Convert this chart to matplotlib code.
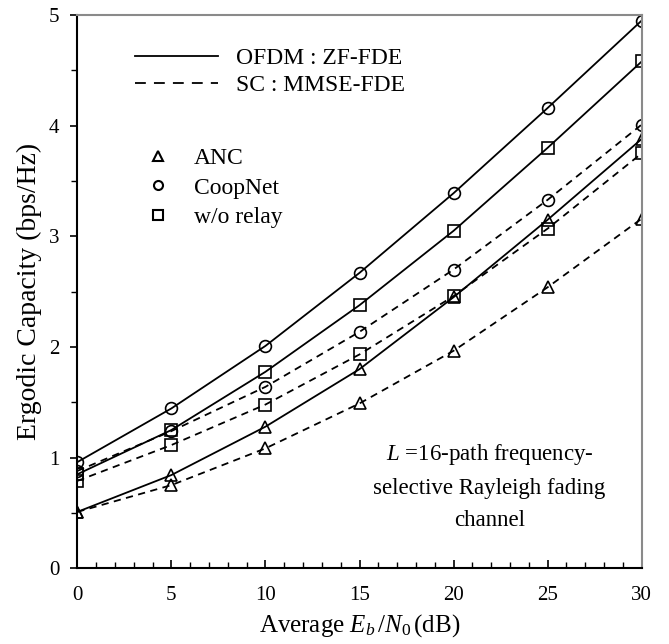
import matplotlib
matplotlib.use("Agg")
import matplotlib.pyplot as plt
from matplotlib.lines import Line2D
from matplotlib.ticker import MultipleLocator

plt.rcParams['font.family'] = ['Liberation Serif', 'DejaVu Serif']
plt.rcParams['mathtext.fontset'] = 'custom'
plt.rcParams['mathtext.rm'] = 'Liberation Serif'
plt.rcParams['mathtext.it'] = 'Liberation Serif:italic'

snr = [0, 5, 10, 15, 20, 25, 30]

ofdm_coopnet = [0.96, 1.445, 2.01, 2.67, 3.39, 4.16, 4.95]
ofdm_worelay = [0.85, 1.25, 1.776, 2.378, 3.05, 3.80, 4.58]
ofdm_anc = [0.51, 0.843, 1.28, 1.80, 2.45, 3.15, 3.88]

sc_coopnet = [0.88, 1.24, 1.64, 2.137, 2.70, 3.33, 4.01]
sc_worelay = [0.79, 1.114, 1.48, 1.933, 2.46, 3.07, 3.75]
sc_anc = [0.51, 0.752, 1.084, 1.49, 1.966, 2.54, 3.16]

fig = plt.figure(figsize=(6.69, 6.44), dpi=100)
ax = fig.add_axes([0.1156, 0.1175, 0.8436, 0.8592])

dash = (0, (4, 3))
mk = dict(markersize=8.5, markerfacecolor='none', markeredgecolor='black', markeredgewidth=1.2)

ax.plot(snr, ofdm_coopnet, color='black', lw=1.3, ls='-', marker='o', **mk)
ax.plot(snr, ofdm_worelay, color='black', lw=1.3, ls='-', marker='s', **mk)
ax.plot(snr, ofdm_anc, color='black', lw=1.3, ls='-', marker='^', **mk)
ax.plot(snr, sc_coopnet, color='black', lw=1.3, ls=dash, marker='o', **mk)
ax.plot(snr, sc_worelay, color='black', lw=1.3, ls=dash, marker='s', **mk)
ax.plot(snr, sc_anc, color='black', lw=1.3, ls=dash, marker='^', **mk)

ax.set_xlim(0, 30)
ax.set_ylim(0, 5)
ax.xaxis.set_major_locator(MultipleLocator(5))
ax.xaxis.set_minor_locator(MultipleLocator(1))
ax.yaxis.set_major_locator(MultipleLocator(1))
ax.yaxis.set_minor_locator(MultipleLocator(0.5))
ax.tick_params(axis='x', which='major', direction='in', length=6, width=1.2, labelsize=15, pad=13)
ax.tick_params(axis='x', which='minor', direction='in', length=4, width=1.0)
ax.tick_params(axis='y', which='major', direction='out', length=5, width=1.2, labelsize=15, pad=8)
ax.tick_params(axis='y', which='minor', direction='out', length=4, width=1.0)

for s in ['left', 'bottom']:
    ax.spines[s].set_color('black')
    ax.spines[s].set_linewidth(1.5)
for s in ['top', 'right']:
    ax.spines[s].set_color('#8a8a8a')
    ax.spines[s].set_linewidth(1.5)

ax.set_xlabel(r'Average $E_b\,/N_{\mathrm{0}}\,$(dB)', fontsize=18, labelpad=5)
ax.set_ylabel('Ergodic Capacity (bps/Hz)', fontsize=20, labelpad=5)

ax.text(21.9, 0.74, "$L$ =16-path frequency-\nselective Rayleigh fading\nchannel",
        ha='center', va='center', fontsize=16.5, linespacing=1.7)

h1 = [Line2D([], [], color='black', lw=1.3, ls='-'),
      Line2D([], [], color='black', lw=1.3, ls=(0, (6, 4.5)))]
leg1 = ax.legend(h1, ['OFDM : ZF-FDE', 'SC : MMSE-FDE'], loc='upper left',
                 bbox_to_anchor=(0.086, 0.958), frameon=False, fontsize=17,
                 handlelength=3.5, handletextpad=0.75, labelspacing=0.22, borderaxespad=0)
ax.add_artist(leg1)

mk2 = dict(ls='none', markersize=6.5, markerfacecolor='none', markeredgecolor='black', markeredgewidth=1.5)
h2 = [Line2D([], [], marker='^', **mk2),
      Line2D([], [], marker='o', **mk2),
      Line2D([], [], marker='s', **mk2)]
ax.legend(h2, ['ANC', 'CoopNet', 'w/o relay'], loc='upper left',
          bbox_to_anchor=(0.106, 0.777), frameon=False, fontsize=17,
          handlelength=1.0, handletextpad=1.0, labelspacing=0.33, borderaxespad=0)

fig.savefig('out.png', dpi=100)
